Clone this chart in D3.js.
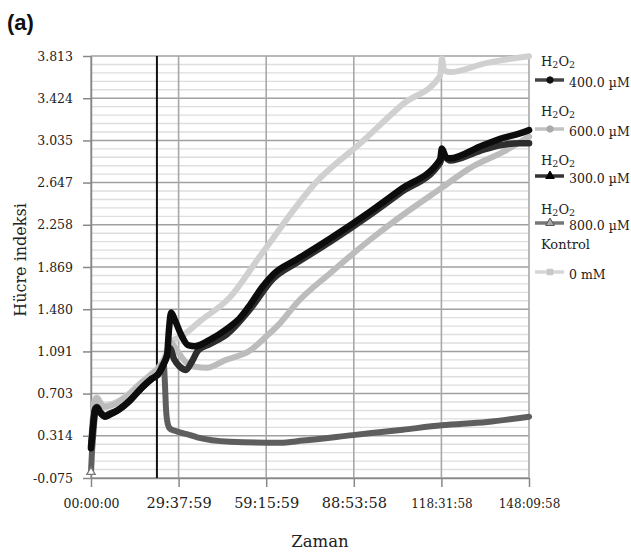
<!DOCTYPE html>
<html><head><meta charset="utf-8">
<script src="https://cdn.jsdelivr.net/npm/d3@7"></script>
<style>body{margin:0;background:#fff}</style>
</head><body><svg id="c" width="631" height="556"></svg>
<script>
// ---- data (hours, Hücre indeksi) ----
const xTicks = [0, 29.6331, 59.2664, 88.8994, 118.5328, 148.1661];
const xTickLabels = ["00:00:00", "29:37:59", "59:15:59", "88:53:58", "118:31:58", "148:09:58"];
const yTicks = [-0.075, 0.314, 0.703, 1.091, 1.480, 1.869, 2.258, 2.647, 3.035, 3.424, 3.813];
const markerTime = 22.3;

const t400 = [0, 0.3, 0.7, 1.35, 2.0, 3.0, 4.7, 6.4, 9.1, 13.2, 15.9, 20.6, 22.7, 25.0, 25.7, 26.7, 28.1, 30.1, 32.1, 34.2, 36.2, 40.3, 46.0, 53.8, 61.6, 69.7, 80.8, 94.4, 104.5, 118.1, 119.0, 121.4, 131.6, 138.4, 145.1, 148.2];
const v400 = [0.22, 0.30, 0.42, 0.56, 0.58, 0.54, 0.50, 0.52, 0.55, 0.64, 0.72, 0.84, 0.88, 1.00, 1.05, 1.12, 1.02, 0.95, 0.92, 1.00, 1.10, 1.16, 1.25, 1.48, 1.76, 1.91, 2.10, 2.35, 2.55, 2.83, 2.90, 2.85, 2.94, 2.99, 3.01, 3.01];

const t300 = [0, 0.3, 0.7, 1.35, 2.0, 3.0, 4.7, 6.4, 9.1, 13.2, 15.9, 20.6, 22.7, 25.0, 25.7, 26.4, 27.1, 28.4, 30.4, 32.8, 35.2, 40.3, 46.0, 50.4, 53.8, 57.8, 61.6, 69.7, 80.8, 94.4, 104.5, 118.1, 118.7, 120.1, 121.4, 131.6, 138.4, 145.1, 148.2];
const v300 = [0.20, 0.28, 0.40, 0.55, 0.57, 0.53, 0.49, 0.51, 0.55, 0.64, 0.72, 0.84, 0.88, 1.00, 1.05, 1.30, 1.45, 1.38, 1.25, 1.15, 1.14, 1.20, 1.30, 1.40, 1.52, 1.68, 1.80, 1.94, 2.13, 2.38, 2.58, 2.86, 2.96, 2.88, 2.87, 2.98, 3.05, 3.10, 3.13];

const t800 = [0, 0.3, 0.7, 1.35, 2.0, 3.0, 4.7, 6.4, 9.1, 13.2, 15.9, 20.6, 22.7, 24.6, 25.0, 25.4, 26.0, 26.7, 28.4, 33.5, 35.9, 47.0, 63.9, 71.7, 88.6, 105.5, 118.7, 134.0, 148.2];
const v800 = [-0.02, 0.15, 0.30, 0.50, 0.56, 0.53, 0.49, 0.51, 0.55, 0.64, 0.72, 0.84, 0.88, 0.98, 0.80, 0.55, 0.42, 0.38, 0.36, 0.32, 0.30, 0.26, 0.25, 0.27, 0.32, 0.37, 0.41, 0.44, 0.49];

const t600 = [0, 0.3, 0.7, 1.35, 2.0, 3.0, 4.7, 6.4, 9.1, 13.2, 15.9, 20.6, 22.7, 25.0, 25.7, 26.7, 29.1, 31.8, 35.2, 39.2, 45.3, 53.8, 58.9, 63.9, 69.7, 80.8, 94.4, 104.5, 118.7, 128.2, 139.4, 148.2];
const v600 = [0.25, 0.36, 0.50, 0.64, 0.66, 0.62, 0.58, 0.59, 0.62, 0.70, 0.77, 0.88, 0.93, 1.03, 1.08, 1.18, 1.10, 1.00, 0.95, 0.94, 1.01, 1.10, 1.22, 1.35, 1.54, 1.81, 2.12, 2.33, 2.60, 2.78, 2.93, 3.07];

const tKontrol = [0, 0.3, 0.7, 1.35, 2.0, 3.0, 4.7, 6.4, 9.1, 13.2, 15.9, 20.6, 22.7, 25.0, 25.7, 26.7, 30.1, 36.9, 47.0, 57.2, 76.5, 92.0, 105.5, 118.1, 118.7, 119.4, 121.4, 134.0, 148.2];
const vKontrol = [0.24, 0.35, 0.50, 0.65, 0.67, 0.63, 0.59, 0.60, 0.63, 0.71, 0.78, 0.89, 0.94, 1.04, 1.08, 1.18, 1.22, 1.37, 1.59, 1.97, 2.66, 3.03, 3.37, 3.63, 3.79, 3.68, 3.665, 3.75, 3.81];

const seriesNames = ["400.0 µM", "600.0 µM", "300.0 µM", "800.0 µM", "0 mM"];

// ---- drawing ----
const svg = d3.select("#c");
const x = d3.scaleLinear().domain([0, 148.1661]).range([91, 529]);
const y = d3.scaleLinear().domain([-0.075, 3.813]).range([478, 56]);
const serif = "'DejaVu Serif', serif";

// minor horizontal gridlines
const minor = [];
for (let i = 0; i < yTicks.length - 1; i++)
  for (let k = 1; k < 5; k++) minor.push(yTicks[i] + (yTicks[i + 1] - yTicks[i]) * k / 5);
svg.append("g").selectAll("line").data(minor).join("line")
  .attr("x1", x(0)).attr("x2", x(148.1661))
  .attr("y1", d => y(d)).attr("y2", d => y(d))
  .attr("stroke", "#dedede").attr("stroke-width", 1.4);
// major gridlines
svg.append("g").selectAll("line").data(yTicks).join("line")
  .attr("x1", x(0)).attr("x2", x(148.1661))
  .attr("y1", d => y(d)).attr("y2", d => y(d))
  .attr("stroke", "#a0a0a0").attr("stroke-width", 1.6);
svg.append("g").selectAll("line").data(xTicks).join("line")
  .attr("x1", d => x(d)).attr("x2", d => x(d))
  .attr("y1", y(3.813)).attr("y2", y(-0.075))
  .attr("stroke", "#a8a8a8").attr("stroke-width", 1.6);

// axes
const yAxis = svg.append("g").attr("transform", `translate(${x(0)},0)`)
  .call(d3.axisLeft(y).tickValues(yTicks).tickFormat(d => d.toFixed(3)).tickSize(8).tickSizeOuter(0).tickPadding(10));
yAxis.selectAll("line").attr("stroke", "#888").attr("stroke-width", 1.5);
yAxis.select(".domain").attr("stroke", "#888").attr("stroke-width", 1.5);
yAxis.selectAll("text").attr("font-family", serif).attr("font-size", 12.5).attr("fill", "#222");

const xAxis = svg.append("g").attr("transform", `translate(0,${y(-0.075)})`)
  .call(d3.axisBottom(x).tickValues(xTicks).tickFormat((d, i) => xTickLabels[i]).tickSize(9).tickSizeOuter(0));
xAxis.selectAll("line").attr("stroke", "#888").attr("stroke-width", 1.5);
xAxis.select(".domain").attr("stroke", "#888").attr("stroke-width", 1.5);
xAxis.selectAll("text").attr("font-family", serif).attr("fill", "#222")
  .attr("y", 30).attr("dy", 0)
  .attr("font-size", (d, i) => (i === 0 ? 12.5 : (i >= 4 ? 12 : 14.5)));

// black marker line
svg.append("line").attr("x1", x(markerTime)).attr("x2", x(markerTime))
  .attr("y1", y(3.813)).attr("y2", y(-0.075))
  .attr("stroke", "#111").attr("stroke-width", 2);

// series
const line = d3.line().x(d => x(d[0])).y(d => y(d[1])).curve(d3.curveMonotoneX);
const zip = (t, v) => t.map((d, i) => [d, v[i]]);
const drawOrder = [
  {t: tKontrol, v: vKontrol, c: "#d0d0d0", w: 6},
  {t: t600, v: v600, c: "#bcbcbc", w: 6},
  {t: t800, v: v800, c: "#5e5e5e", w: 6},
  {t: t400, v: v400, c: "#2e2e2e", w: 6.5},
  {t: t300, v: v300, c: "#0c0c0c", w: 6.5}
];
drawOrder.forEach(s => {
  svg.append("path").datum(zip(s.t, s.v)).attr("d", line)
    .attr("fill", "none").attr("stroke", s.c).attr("stroke-width", s.w)
    .attr("stroke-linejoin", "round").attr("stroke-linecap", "round");
});
// start marker of 800 series
svg.append("path").attr("d", d3.symbol(d3.symbolTriangle, 30)())
  .attr("transform", `translate(${x(t800[0])},${y(v800[0])})`)
  .attr("fill", "#fff").attr("stroke", "#777").attr("stroke-width", 1.3);

// legend
const legend = [
  {name: seriesNames[0], h2o2: true, ty: 66, ly: 80, c: "#444", m: "circle", mc: "#111", mf: "#111"},
  {name: seriesNames[1], h2o2: true, ty: 116, ly: 129, c: "#c2c2c2", m: "circle", mc: "#aaa", mf: "#aaa"},
  {name: seriesNames[2], h2o2: true, ty: 165, ly: 176, c: "#333", m: "triangle", mc: "#000", mf: "#000"},
  {name: seriesNames[3], h2o2: true, ty: 214, ly: 223, c: "#777", m: "triangle", mc: "#555", mf: "#aaa"},
  {name: seriesNames[4], h2o2: false, ty: 249, ly: 272, c: "#d6d6d6", m: "square", mc: "#c8c8c8", mf: "#c8c8c8"}
];
const lg = svg.append("g").attr("font-family", serif).attr("fill", "#222");
legend.forEach(d => {
  const t = lg.append("text").attr("x", 541).attr("y", d.ty).attr("font-size", 13);
  if (d.h2o2) {
    t.append("tspan").text("H");
    t.append("tspan").text("2").attr("font-size", 9.5).attr("dy", 2);
    t.append("tspan").text("O").attr("dy", -2);
    t.append("tspan").text("2").attr("font-size", 9.5).attr("dy", 2);
  } else {
    t.text("Kontrol");
  }
  lg.append("line").attr("x1", 535).attr("x2", 564).attr("y1", d.ly).attr("y2", d.ly)
    .attr("stroke", d.c).attr("stroke-width", 3.5);
  const sym = d.m === "circle" ? d3.symbolCircle : d.m === "triangle" ? d3.symbolTriangle : d3.symbolSquare;
  lg.append("path").attr("d", d3.symbol(sym, 32)())
    .attr("transform", `translate(550,${d.ly})`)
    .attr("fill", d.mf).attr("stroke", d.mc).attr("stroke-width", 1);
  lg.append("text").attr("x", 569).attr("y", d.ly + 7).attr("font-size", 12.5).text(d.name);
});

// axis titles
svg.append("text").attr("x", 320).attr("y", 547).attr("text-anchor", "middle")
  .attr("font-family", serif).attr("font-size", 16.5).attr("fill", "#222").text("Zaman");
svg.append("text").attr("transform", "translate(26,260) rotate(-90)").attr("text-anchor", "middle")
  .attr("font-family", serif).attr("font-size", 16).attr("fill", "#222").text("Hücre indeksi");
svg.append("text").attr("x", 7).attr("y", 30).attr("font-family", "'Liberation Sans', Arial, sans-serif")
  .attr("font-weight", "bold").attr("font-size", 22).attr("fill", "#111").text("(a)");
</script></body></html>
